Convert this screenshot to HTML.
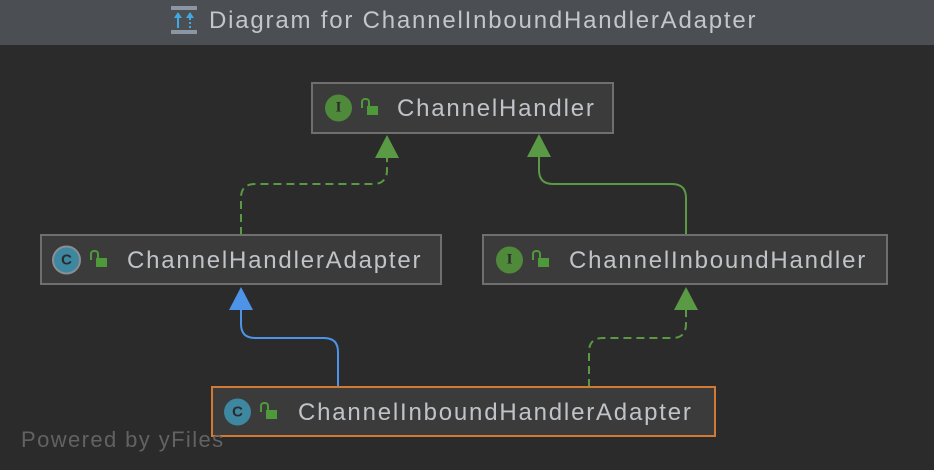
<!DOCTYPE html>
<html><head><meta charset="utf-8"><style>
html,body{margin:0;padding:0;}
body{width:934px;height:470px;background:#2b2b2b;position:relative;overflow:hidden;font-family:"Liberation Sans",sans-serif;}
.hdr{position:absolute;left:0;top:0;width:934px;height:45px;background:#4b4e53;}
.hdr .t{position:absolute;left:209px;top:7px;font-size:24px;letter-spacing:1.8px;color:#c4c6c8;white-space:nowrap;}
.box{position:absolute;background:#3b3b3b;border:2px solid #6f6f6f;box-sizing:border-box;}
.box .n{position:absolute;top:50%;margin-top:1px;transform:translateY(-50%);font-size:24px;letter-spacing:1.8px;color:#c0c4c8;white-space:nowrap;}
.ic{position:absolute;top:50%;transform:translateY(-50%);width:27px;height:27px;border-radius:50%;color:#2b2b2b;font-size:15px;font-weight:bold;text-align:center;line-height:27px;font-family:"Liberation Serif",serif;}
.lk{position:absolute;top:50%;width:11px;height:9px;background:#4e9a3a;margin-top:-2px;}
.lk:before{content:"";position:absolute;left:-6px;top:-8px;width:5px;height:8px;border:2px solid #4e9a3a;border-bottom:none;border-radius:4px 4px 0 0;}
.pw{position:absolute;left:21px;top:427px;font-size:22px;letter-spacing:1.4px;color:#626262;white-space:nowrap;}
</style></head><body>
<div class="hdr">
<svg style="position:absolute;left:171px;top:6px" width="26" height="28"><rect x="0" y="0" width="26" height="4" fill="#8a96a2"/><rect x="0" y="24" width="26" height="4" fill="#8a96a2"/><line x1="7" y1="22" x2="7" y2="10" stroke="#3fa9e0" stroke-width="2"/><path d="M3 12 L7 6 L11 12Z" fill="#3fa9e0"/><line x1="19" y1="22" x2="19" y2="10" stroke="#3fa9e0" stroke-width="2" stroke-dasharray="2 2"/><path d="M15 12 L19 6 L23 12Z" fill="#3fa9e0"/></svg>
<div class="t">Diagram for ChannelInboundHandlerAdapter</div>
</div>
<svg style="position:absolute;left:0;top:0" width="934" height="470">
<g fill="none" stroke-width="2">
<path d="M241 235 V198 Q241 184 255 184 H373 Q387 184 387 170 V156" stroke="#5a9a45" stroke-dasharray="8 5"/>
<path d="M686 235 V198 Q686 184 672 184 H553 Q539 184 539 170 V156" stroke="#5a9a45"/>
<path d="M338 387 V352 Q338 338 324 338 H255 Q241 338 241 324 V308" stroke="#4d94e8"/>
<path d="M589 387 V352 Q589 338 603 338 H672 Q686 338 686 324 V308" stroke="#5a9a45" stroke-dasharray="8 5"/>
</g>
<path d="M375 158 L387 135 L399 158Z" fill="#5a9a45"/>
<path d="M527 157 L539 134 L551 157Z" fill="#5a9a45"/>
<path d="M229 310 L241 287 L253 310Z" fill="#4d94e8"/>
<path d="M674 310 L686 287 L698 310Z" fill="#5a9a45"/>
</svg>
<div class="box" style="left:311px;top:82px;width:303px;height:52px">
<div class="ic" style="left:12px;background:#4e8a3a;">I</div><div class="lk" style="left:54px"></div>
<div class="n" style="left:84px">ChannelHandler</div></div>
<div class="box" style="left:40px;top:234px;width:402px;height:51px">
<div class="ic" style="left:10px;background:#3d87a0;border:2px solid #8a8f94;width:25px;height:25px;line-height:25px;font-family:'Liberation Sans',sans-serif;">C</div><div class="lk" style="left:54px"></div>
<div class="n" style="left:85px">ChannelHandlerAdapter</div></div>
<div class="box" style="left:482px;top:234px;width:406px;height:51px">
<div class="ic" style="left:12px;background:#4e8a3a;">I</div><div class="lk" style="left:54px"></div>
<div class="n" style="left:85px">ChannelInboundHandler</div></div>
<div class="box" style="left:211px;top:386px;width:505px;height:51px;border-color:#d27a33">
<div class="ic" style="left:11px;background:#3d87a0;font-family:'Liberation Sans',sans-serif;">C</div><div class="lk" style="left:53px"></div>
<div class="n" style="left:85px">ChannelInboundHandlerAdapter</div></div>
<div class="pw">Powered by yFiles</div>
</body></html>
